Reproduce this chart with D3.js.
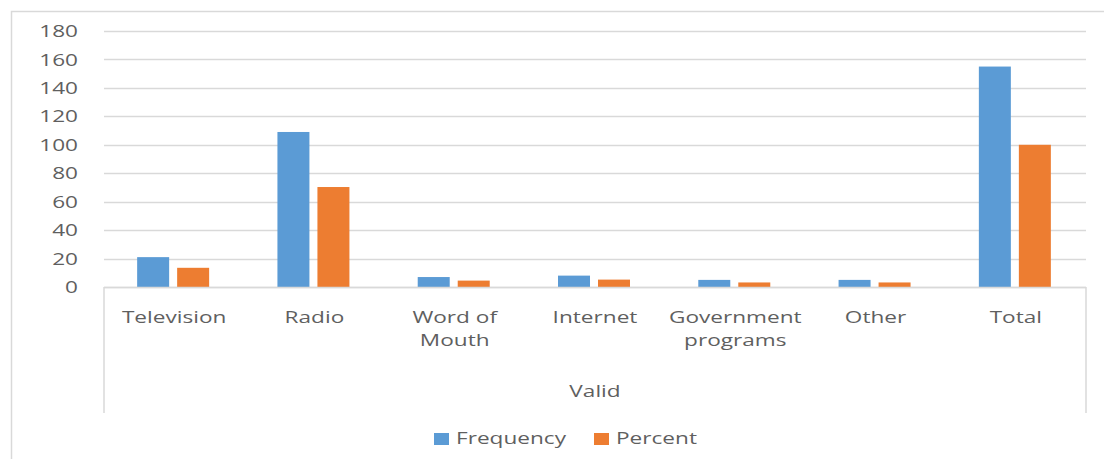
<!DOCTYPE html>
<html>
<head>
<meta charset="utf-8">
<script src="https://cdn.jsdelivr.net/npm/d3@7"></script>
<style>
  html, body { margin: 0; padding: 0; background: #fff; }
  svg { display: block; }
  text { font-family: "Open Sans", Lato, sans-serif; fill: #5f5f5f; font-weight: 400; }
</style>
</head>
<body>
<svg id="chart" width="1104" height="459"></svg>
<script>
// Source of information, grouped under "Valid"
const categories = [["Television"], ["Radio"], ["Word of", "Mouth"], ["Internet"],
                    ["Government", "programs"], ["Other"], ["Total"]];
const seriesNames = ["Frequency", "Percent"];
const frequency = [21, 109, 7, 8, 5, 5, 155];
const percent = [13.5, 70.3, 4.5, 5.2, 3.2, 3.2, 100];
const yTicks = [0, 20, 40, 60, 80, 100, 120, 140, 160, 180];
const groupLabel = "Valid";
const colors = ["#5B9BD5", "#ED7D31"];

const W = 1104, H = 459;
const SX = 1.33;           // horizontal stretch applied to text
const FS = 17;             // font size
const gridColor = "#d9d9d9";

const svg = d3.select("#chart");

// chart frame
svg.append("rect")
  .attr("x", 11.5).attr("y", 11.5)
  .attr("width", W).attr("height", H)
  .attr("fill", "none").attr("stroke", gridColor).attr("stroke-width", 1.5);

const plot = { left: 104, right: 1086, top: 31, bottom: 287 };

const keys = categories.map(c => c.join(" "));
const x0 = d3.scaleBand().domain(keys).range([plot.left, plot.right]).padding(0);
const bw = x0.bandwidth();
const x1 = d3.scaleBand().domain(seriesNames)
  .range([bw / 2 - 1 - 36, bw / 2 - 1 + 36]).paddingInner(0.2).paddingOuter(0);
const y = d3.scaleLinear().domain([0, 180]).range([plot.bottom, plot.top]);

// horizontal gridlines
svg.append("g").selectAll("line").data(yTicks).join("line")
  .attr("x1", plot.left).attr("x2", plot.right)
  .attr("y1", d => Math.round(y(d)) + 0.5).attr("y2", d => Math.round(y(d)) + 0.5)
  .attr("stroke", gridColor).attr("stroke-width", 1.5);

// y tick labels
svg.append("g").selectAll("g").data(yTicks).join("g")
  .attr("transform", d => `translate(78,${y(d)}) scale(${SX},1)`)
  .append("text")
  .attr("text-anchor", "end").attr("dy", "0.36em")
  .attr("font-size", FS)
  .text(d => d);

// bars
const rows = keys.map((k, i) => ({ key: k, values: [frequency[i], percent[i]] }));
const groups = svg.append("g").selectAll("g").data(rows).join("g")
  .attr("transform", d => `translate(${x0(d.key)},0)`);
groups.selectAll("rect")
  .data(d => d.values.map((v, j) => ({ name: seriesNames[j], value: v, j })))
  .join("rect")
  .attr("x", d => x1(d.name))
  .attr("width", x1.bandwidth())
  .attr("y", d => y(d.value))
  .attr("height", d => y(0) - y(d.value))
  .attr("fill", d => colors[d.j]);

// category axis frame: baseline and outer group separators
const axisBottom = 413;
svg.append("line")
  .attr("x1", plot.left).attr("x2", plot.right)
  .attr("y1", plot.bottom + 0.5).attr("y2", plot.bottom + 0.5)
  .attr("stroke", gridColor).attr("stroke-width", 1.5);
[plot.left, plot.right].forEach(xv => {
  svg.append("line")
    .attr("x1", xv).attr("x2", xv)
    .attr("y1", plot.bottom).attr("y2", axisBottom)
    .attr("stroke", gridColor).attr("stroke-width", 1.5);
});

// category labels
const catG = svg.append("g").selectAll("g").data(categories).join("g")
  .attr("transform", (d, i) => `translate(${x0(keys[i]) + bw / 2},0) scale(${SX},1)`);
catG.selectAll("text").data(d => d).join("text")
  .attr("text-anchor", "middle")
  .attr("font-size", FS)
  .attr("y", (d, i) => 323 + i * 23)
  .text(d => d);

// group label
svg.append("g")
  .attr("transform", `translate(${(plot.left + plot.right) / 2},397) scale(${SX},1)`)
  .append("text").attr("text-anchor", "middle").attr("font-size", FS)
  .text(groupLabel);

// legend
const legend = [
  { name: seriesNames[0], color: colors[0], x: 434 },
  { name: seriesNames[1], color: colors[1], x: 594 }
];
const lg = svg.append("g").selectAll("g").data(legend).join("g")
  .attr("transform", d => `translate(${d.x},0)`);
lg.append("rect")
  .attr("x", 0).attr("y", 433).attr("width", 15).attr("height", 12)
  .attr("fill", d => d.color);
lg.append("g")
  .attr("transform", `translate(22,444) scale(${SX},1)`)
  .append("text").attr("font-size", FS)
  .text(d => d.name);
</script>
</body>
</html>
